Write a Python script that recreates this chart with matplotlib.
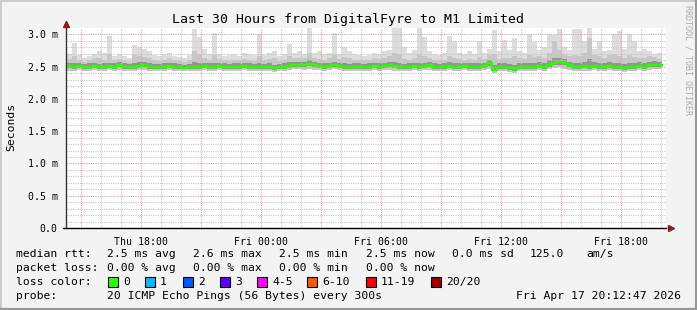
import numpy as np
import matplotlib
matplotlib.use("Agg")
import matplotlib.pyplot as plt
from matplotlib.ticker import FixedLocator

# ---- data (hours since Thu 00:00, values in ms) ----
x_start = 14.25                     # left edge of the 30 hour window
first_sample = 14.05
step_hours = 0.25

rtt_min = [
    2.45, 2.44, 2.44, 2.45, 2.43, 2.44, 2.45, 2.44, 2.44, 2.45,
    2.44, 2.45, 2.44, 2.43, 2.44, 2.45, 2.45, 2.44, 2.43, 2.44,
    2.44, 2.45, 2.44, 2.43, 2.43, 2.44, 2.44, 2.43, 2.45, 2.44,
    2.44, 2.45, 2.44, 2.43, 2.44, 2.44, 2.45, 2.44, 2.43, 2.44,
    2.43, 2.44, 2.42, 2.43, 2.44, 2.45, 2.46, 2.46, 2.45, 2.47,
    2.45, 2.45, 2.44, 2.45, 2.46, 2.45, 2.44, 2.43, 2.44, 2.44,
    2.43, 2.44, 2.45, 2.44, 2.45, 2.45, 2.44, 2.44, 2.43, 2.44,
    2.45, 2.44, 2.45, 2.45, 2.44, 2.43, 2.44, 2.45, 2.44, 2.44,
    2.45, 2.44, 2.43, 2.44, 2.45, 2.47, 2.41, 2.44, 2.44, 2.42,
    2.41, 2.43, 2.44, 2.44, 2.43, 2.45, 2.44, 2.46, 2.48, 2.49,
    2.47, 2.45, 2.44, 2.43, 2.44, 2.44, 2.45, 2.43, 2.44, 2.45,
    2.44, 2.43, 2.42, 2.43, 2.44, 2.45, 2.44, 2.45, 2.46, 2.46]

rtt_q1 = [
    2.49, 2.48, 2.47, 2.48, 2.47, 2.47, 2.48, 2.47, 2.47, 2.48,
    2.47, 2.49, 2.47, 2.46, 2.47, 2.48, 2.49, 2.47, 2.46, 2.47,
    2.47, 2.48, 2.47, 2.46, 2.46, 2.47, 2.47, 2.46, 2.48, 2.47,
    2.47, 2.48, 2.47, 2.46, 2.47, 2.47, 2.48, 2.47, 2.46, 2.47,
    2.46, 2.47, 2.45, 2.46, 2.47, 2.48, 2.49, 2.50, 2.49, 2.51,
    2.49, 2.48, 2.47, 2.48, 2.49, 2.48, 2.47, 2.46, 2.47, 2.47,
    2.46, 2.47, 2.48, 2.47, 2.48, 2.49, 2.48, 2.47, 2.46, 2.47,
    2.48, 2.47, 2.48, 2.49, 2.47, 2.46, 2.47, 2.48, 2.47, 2.47,
    2.48, 2.47, 2.46, 2.47, 2.48, 2.51, 2.43, 2.47, 2.47, 2.45,
    2.44, 2.46, 2.47, 2.47, 2.46, 2.48, 2.47, 2.50, 2.52, 2.53,
    2.52, 2.50, 2.47, 2.46, 2.48, 2.47, 2.48, 2.46, 2.47, 2.48,
    2.47, 2.46, 2.45, 2.46, 2.47, 2.48, 2.47, 2.49, 2.50, 2.50]

rtt_median = [
    2.52, 2.51, 2.50, 2.51, 2.49, 2.50, 2.51, 2.49, 2.50, 2.51,
    2.50, 2.52, 2.50, 2.49, 2.50, 2.51, 2.52, 2.50, 2.49, 2.49,
    2.50, 2.51, 2.50, 2.49, 2.48, 2.49, 2.50, 2.49, 2.51, 2.50,
    2.50, 2.51, 2.50, 2.49, 2.50, 2.50, 2.51, 2.50, 2.49, 2.50,
    2.49, 2.50, 2.48, 2.49, 2.50, 2.51, 2.52, 2.53, 2.52, 2.54,
    2.52, 2.51, 2.50, 2.51, 2.52, 2.51, 2.50, 2.49, 2.50, 2.50,
    2.49, 2.50, 2.51, 2.50, 2.51, 2.52, 2.51, 2.50, 2.49, 2.50,
    2.51, 2.50, 2.51, 2.52, 2.50, 2.49, 2.50, 2.51, 2.50, 2.50,
    2.51, 2.50, 2.49, 2.50, 2.51, 2.55, 2.45, 2.50, 2.50, 2.48,
    2.47, 2.49, 2.50, 2.50, 2.49, 2.51, 2.50, 2.53, 2.56, 2.57,
    2.56, 2.53, 2.50, 2.49, 2.51, 2.50, 2.51, 2.49, 2.50, 2.51,
    2.50, 2.49, 2.48, 2.49, 2.50, 2.51, 2.50, 2.52, 2.53, 2.53]

rtt_q3 = [
    2.56, 2.55, 2.55, 2.56, 2.54, 2.55, 2.56, 2.54, 2.56, 2.56,
    2.55, 2.57, 2.55, 2.54, 2.56, 2.57, 2.58, 2.55, 2.54, 2.54,
    2.55, 2.56, 2.55, 2.54, 2.53, 2.54, 2.57, 2.55, 2.56, 2.55,
    2.56, 2.56, 2.55, 2.54, 2.55, 2.55, 2.56, 2.55, 2.54, 2.56,
    2.54, 2.55, 2.53, 2.54, 2.55, 2.57, 2.57, 2.58, 2.57, 2.60,
    2.57, 2.56, 2.55, 2.56, 2.58, 2.56, 2.55, 2.54, 2.55, 2.55,
    2.54, 2.55, 2.56, 2.55, 2.56, 2.58, 2.57, 2.56, 2.54, 2.55,
    2.56, 2.56, 2.56, 2.57, 2.55, 2.54, 2.55, 2.57, 2.55, 2.55,
    2.56, 2.55, 2.55, 2.55, 2.56, 2.61, 2.52, 2.55, 2.56, 2.54,
    2.53, 2.55, 2.56, 2.56, 2.55, 2.57, 2.56, 2.60, 2.64, 2.63,
    2.62, 2.58, 2.56, 2.55, 2.58, 2.62, 2.57, 2.55, 2.56, 2.57,
    2.56, 2.55, 2.54, 2.55, 2.56, 2.57, 2.56, 2.58, 2.59, 2.58]

rtt_p90 = [
    2.60, 2.62, 2.66, 2.61, 2.58, 2.60, 2.63, 2.64, 2.60, 2.70,
    2.60, 2.62, 2.59, 2.58, 2.68, 2.66, 2.65, 2.64, 2.60, 2.59,
    2.61, 2.63, 2.60, 2.59, 2.58, 2.60, 2.75, 2.70, 2.64, 2.60,
    2.68, 2.62, 2.60, 2.59, 2.61, 2.60, 2.62, 2.61, 2.59, 2.66,
    2.60, 2.62, 2.63, 2.59, 2.61, 2.66, 2.63, 2.64, 2.63, 2.72,
    2.64, 2.62, 2.61, 2.63, 2.68, 2.62, 2.65, 2.63, 2.60, 2.61,
    2.60, 2.61, 2.63, 2.62, 2.64, 2.66, 2.72, 2.70, 2.62, 2.61,
    2.64, 2.70, 2.66, 2.63, 2.61, 2.60, 2.61, 2.66, 2.64, 2.62,
    2.61, 2.62, 2.60, 2.65, 2.62, 2.68, 2.70, 2.62, 2.64, 2.63,
    2.66, 2.63, 2.62, 2.68, 2.65, 2.66, 2.64, 2.72, 2.90, 2.76,
    2.70, 2.66, 2.68, 2.66, 2.72, 2.95, 2.68, 2.66, 2.64, 2.68,
    2.70, 2.66, 2.64, 2.68, 2.65, 2.63, 2.64, 2.66, 2.65, 2.62]

rtt_max = [
    2.66, 2.70, 2.86, 2.68, 2.64, 2.66, 2.70, 2.75, 2.72, 2.98,
    2.67, 2.70, 2.66, 2.64, 2.83, 2.80, 2.78, 2.75, 2.68, 2.66,
    2.70, 2.72, 2.66, 2.65, 2.64, 2.68, 3.09, 2.96, 2.78, 2.70,
    3.02, 2.70, 2.66, 2.68, 2.70, 2.66, 2.72, 2.70, 2.68, 3.00,
    2.68, 2.72, 2.75, 2.66, 2.70, 2.85, 2.72, 2.74, 2.70, 3.10,
    2.72, 2.75, 2.70, 2.72, 3.02, 2.70, 2.80, 2.75, 2.70, 2.68,
    2.66, 2.68, 2.72, 2.70, 2.74, 2.76, 3.10, 3.10, 2.80, 2.72,
    2.76, 3.10, 2.96, 2.74, 2.70, 2.68, 2.72, 2.97, 2.90, 2.72,
    2.70, 2.74, 2.70, 2.90, 2.72, 2.78, 3.07, 2.74, 2.92, 2.76,
    2.95, 2.74, 2.72, 3.00, 2.88, 2.76, 2.80, 3.00, 2.99, 3.08,
    2.80, 2.76, 3.09, 3.09, 2.90, 3.10, 2.78, 2.90, 2.74, 2.76,
    3.00, 3.05, 2.78, 3.00, 2.90, 2.74, 2.78, 2.75, 2.70, 2.72]

x_tick_hours = [18, 24, 30, 36, 42]
x_tick_labels = ["Thu 18:00", "Fri 00:00", "Fri 06:00", "Fri 12:00", "Fri 18:00"]
y_ticks = [0.0, 0.5, 1.0, 1.5, 2.0, 2.5, 3.0]
y_tick_labels = ["0.0", "0.5 m", "1.0 m", "1.5 m", "2.0 m", "2.5 m", "3.0 m"]

loss_labels = ["0", "1", "2", "3", "4-5", "6-10", "11-19", "20/20"]
loss_colors = ["#26ff00", "#00b8ff", "#0059ff", "#5e00ff", "#ff00ff",
               "#ff5500", "#ff0000", "#a10000"]

# ---- figure ----
W, H = 697, 310
MONO = "DejaVu Sans Mono"
fig = plt.figure(figsize=(W / 100, H / 100), dpi=100, facecolor="#f3f3f3")


def px(x, y):
    return x / W, 1 - y / H


ax = fig.add_axes([66 / W, (H - 228) / H, 600 / W, 200 / H])
ax.set_facecolor("white")
ax.set_xlim(x_start, x_start + 30)
ax.set_ylim(0, 3.1)

# sample edges, step drawing like rrdtool
n = len(rtt_median)
t = first_sample + step_hours * np.arange(n + 1)


def ext(v):
    return list(v) + [v[-1]]


ax.fill_between(t, ext(rtt_min), ext(rtt_max), step="post", color="#dddddd", lw=0, zorder=1)
ax.fill_between(t, ext(rtt_min), ext(rtt_p90), step="post", color="#c6c6c6", lw=0, zorder=1.1)
ax.fill_between(t, ext(rtt_q1), ext(rtt_q3), step="post", color="#949494", lw=0, zorder=1.2)
ax.step(t, ext(rtt_median), where="post", color="#26ff00", lw=1.7, zorder=3)

# grid: red every 3 h / 0.5 ms, gray every hour / 0.1 ms
ax.xaxis.set_major_locator(FixedLocator(np.arange(15, 45, 3)))
ax.xaxis.set_minor_locator(FixedLocator(np.arange(15, 45, 1)))
ax.yaxis.set_major_locator(FixedLocator(y_ticks))
ax.yaxis.set_minor_locator(FixedLocator(np.arange(0.1, 3.1, 0.1)))
ax.grid(which="minor", color="#c8c8c8", linestyle=(0, (1, 1)), lw=0.8)
ax.grid(which="major", color="#f0a0a0", linestyle=(0, (1, 1)), lw=0.8)
ax.set_axisbelow(False)
ax.set_xticklabels([])
ax.set_yticklabels(y_tick_labels, fontsize=7.1, family=MONO)
ax.tick_params(which="both", length=0, pad=6)
for s in ax.spines.values():
    s.set_visible(False)

for h, lab in zip(x_tick_hours, x_tick_labels):
    ax.text(h, -0.045, lab, transform=ax.get_xaxis_transform(), ha="center", va="top",
            fontsize=7.1, family=MONO)

# axes with arrows
ax.plot([0, 0], [0, 1.0], color="#333333", lw=1, transform=ax.transAxes, clip_on=False, zorder=4)
ax.plot([-0.005, 1.0], [0, 0], color="#000000", lw=1, transform=ax.transAxes, clip_on=False, zorder=4)
ax.plot(0, 1.02, marker="^", color="#8b1a1a", ms=4, transform=ax.transAxes, clip_on=False, zorder=4)
ax.plot(1.008, 0, marker=">", color="#8b1a1a", ms=4, transform=ax.transAxes, clip_on=False, zorder=4)

# titles
fig.text(*px(348, 19), "Last 30 Hours from DigitalFyre to M1 Limited", ha="center", va="center",
         fontsize=9.5, family=MONO)
fig.text(*px(11, 127), "Seconds", rotation=90, ha="center", va="center", fontsize=8.2, family=MONO)
fig.text(*px(688, 60), "RRDTOOL / TOBI OETIKER", rotation=270, ha="center", va="center",
         fontsize=6, family=MONO, color="#aaaaaa")

# legend rows
fs = 8.2
rows = [
    (254, [(16, "median rtt:"), (107, "2.5 ms avg"), (193, "2.6 ms max"), (279, "2.5 ms min"),
           (366, "2.5 ms now"), (452, "0.0 ms sd"), (530, "125.0"), (586, "am/s")]),
    (268, [(16, "packet loss:"), (107, "0.00 % avg"), (193, "0.00 % max"), (279, "0.00 % min"),
           (366, "0.00 % now")]),
    (282, [(16, "loss color:")]),
    (296, [(16, "probe:"), (107, "20 ICMP Echo Pings (56 Bytes) every 300s")]),
]
for y, items in rows:
    for x, s in items:
        fig.text(*px(x, y), s, ha="left", va="center", fontsize=fs, family=MONO)
fig.text(*px(681, 296), "Fri Apr 17 20:12:47 2026", ha="right", va="center", fontsize=fs, family=MONO)

box_x = [108, 145, 183, 220, 257, 307, 366, 431]
for bx, lab, col in zip(box_x, loss_labels, loss_colors):
    x0, y0 = px(bx, 287)
    fig.patches.append(plt.Rectangle((x0, y0), 10 / W, 10 / H, transform=fig.transFigure,
                                     facecolor=col, edgecolor="black", lw=0.8))
    fig.text(*px(bx + 15, 282), lab, ha="left", va="center", fontsize=fs, family=MONO)

# 3d-ish frame
fig.lines.append(plt.Line2D([0, 0, 1], [0, 1, 1], transform=fig.transFigure, color="#cbcbcb", lw=2))
fig.lines.append(plt.Line2D([0, 1, 1], [0, 0, 1], transform=fig.transFigure, color="#999999", lw=3))

fig.savefig("out.png", dpi=100, facecolor=fig.get_facecolor())
